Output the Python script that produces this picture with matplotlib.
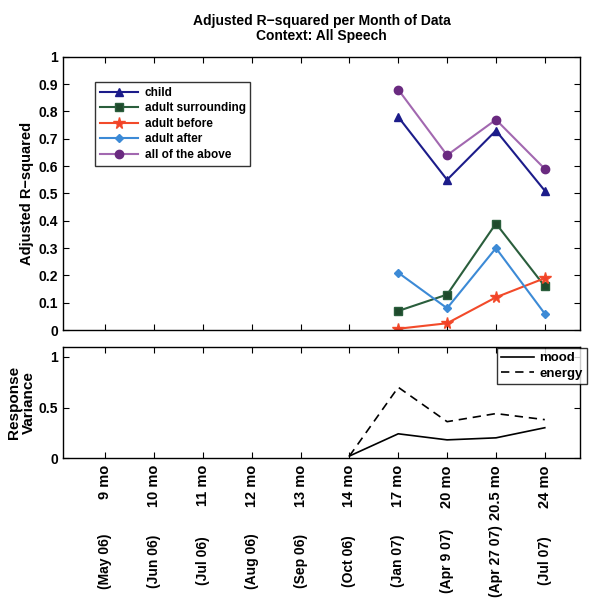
import numpy as np
import matplotlib
matplotlib.use('Agg')
import matplotlib.pyplot as plt
import matplotlib.transforms as mtransforms

plt.rcParams['font.family'] = ['Liberation Sans', 'DejaVu Sans']
plt.rcParams['font.weight'] = 'bold'

# ages / dates of recordings
ages = ['9 mo', '10 mo', '11 mo', '12 mo', '13 mo', '14 mo',
        '17 mo', '20 mo', '20.5 mo', '24 mo']
dates = ['(May 06)', '(Jun 06)', '(Jul 06)', '(Aug 06)', '(Sep 06)',
         '(Oct 06)', '(Jan 07)', '(Apr 9 07)', '(Apr 27 07)', '(Jul 07)']

# adjusted R-squared (only last four months have data)
r2_months = [7, 8, 9, 10]
r2_child = [0.78, 0.55, 0.73, 0.51]
r2_surrounding = [0.07, 0.13, 0.39, 0.16]
r2_before = [0.005, 0.025, 0.12, 0.19]
r2_after = [0.21, 0.08, 0.30, 0.06]
r2_all = [0.88, 0.64, 0.77, 0.59]

# response variance
var_months = [6, 7, 8, 9, 10]
var_mood = [0.02, 0.24, 0.18, 0.20, 0.30]
var_energy = [0.02, 0.70, 0.36, 0.44, 0.38]

fig = plt.figure(figsize=(5.9, 5.98), dpi=100)
ax1 = fig.add_axes([0.107, 0.448, 0.876, 0.457])
ax2 = fig.add_axes([0.107, 0.234, 0.876, 0.186])

x = np.arange(1, len(ages) + 1)

ax1.plot(r2_months, r2_child, '-^', color='#1c1c8a', mfc='#1c1c8a',
         ms=6, lw=1.5, label='child')
ax1.plot(r2_months, r2_surrounding, '-s', color='#2a5e3c', mfc='#1f4a2c',
         ms=6, lw=1.5, label='adult surrounding')
ax1.plot(r2_months, r2_before, '-*', color='#f24a2a', mfc='#f2402a',
         ms=8.5, lw=1.5, label='adult before')
ax1.plot(r2_months, r2_after, '-D', color='#3c8ad6', mfc='#3c8ad6',
         ms=4, lw=1.5, label='adult after')
ax1.plot(r2_months, r2_all, '-o', color='#a268b0', mfc='#6a2a80',
         mec='#6a2a80', ms=6, lw=1.5, label='all of the above')

ax1.set_xlim(0.14, 10.72)
ax1.set_ylim(0, 1)
ax1.set_xticks(x)
ax1.set_xticklabels([])
ax1.set_yticks(np.arange(0, 1.01, 0.1))
ax1.set_yticklabels(['0'] + ['%.1f' % v for v in np.arange(0.1, 0.95, 0.1)] + ['1'])
ax1.tick_params(direction='in', top=True, right=True, labelsize=10, length=4)
ax1.set_ylabel('Adjusted R\u2212squared', fontsize=10.5, fontweight='bold')
ax1.yaxis.set_label_coords(-0.056, 0.5)
ax1.set_title('Adjusted R\u2212squared per Month of Data\nContext: All Speech',
              fontsize=10, fontweight='bold', pad=12, linespacing=1.1)
leg1 = ax1.legend(loc='upper left', bbox_to_anchor=(0.062, 0.908),
                  fontsize=8.5, frameon=True, fancybox=False,
                  edgecolor='black', handlelength=3.2, borderpad=0.4,
                  labelspacing=0.3, handletextpad=0.6, borderaxespad=0)
leg1.get_frame().set_linewidth(1.0)

ax2.plot(var_months, var_mood, '-', color='black', lw=1.2, label='mood')
ax2.plot(var_months, var_energy, '--', color='black', lw=1.2,
         dashes=(5, 3.5), label='energy')
ax2.set_xlim(0.14, 10.72)
ax2.set_ylim(0, 1.1)
ax2.set_yticks([0, 0.5, 1])
ax2.set_yticklabels(['0', '0.5', '1'])
ax2.set_xticks(x)
ax2.set_xticklabels(ages, rotation=90)
ax2.tick_params(direction='in', top=True, right=True, labelsize=10, length=4)
ax2.tick_params(axis='x', pad=5, labelsize=10.5)
ax2.set_ylabel('Response\nVariance', fontsize=11, fontweight='bold',
               linespacing=1.15)
ax2.yaxis.set_label_coords(-0.052, 0.5)
leg2 = ax2.legend(loc='upper right', bbox_to_anchor=(1.013, 0.99),
                  fontsize=9.5, frameon=True, fancybox=False,
                  edgecolor='black', handlelength=2.5, borderpad=0.3,
                  labelspacing=0.25, handletextpad=0.4, borderaxespad=0)
leg2.get_frame().set_linewidth(1.0)

trans = mtransforms.blended_transform_factory(ax2.transData, fig.transFigure)
for xi, d in zip(x, dates):
    ax2.text(xi, 0.062, d, rotation=90, ha='center', va='center',
             fontsize=10, transform=trans)

for a in (ax1, ax2):
    for s in a.spines.values():
        s.set_linewidth(1.0)

fig.savefig('out.png', dpi=100)
